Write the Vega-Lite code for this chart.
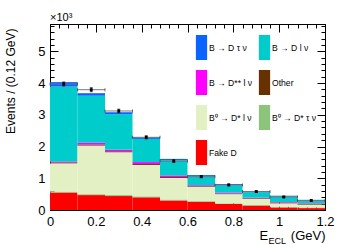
{
  "$schema": "https://vega.github.io/schema/vega-lite/v6.json",
  "width": 275,
  "height": 186,
  "autosize": "none",
  "padding": {"left": 50, "top": 24, "right": 36, "bottom": 35},
  "config": {
    "view": {"stroke": null},
    "font": "Liberation Sans",
    "axis": {"grid": false, "domainColor": "#000", "tickColor": "#000", "labelColor": "#000", "titleColor": "#000", "labelFont": "Liberation Sans", "titleFont": "Liberation Sans", "titleFontWeight": "normal", "zindex": 1}
  },
  "title": {"text": "×10³", "anchor": "start", "frame": "group", "fontSize": 11, "fontWeight": "normal", "font": "Liberation Sans", "color": "#000", "offset": 1},
  "datasets": {
    "hist": [
      {"x0":0,"x1":0.12,"c":"Fake D","o":1,"v":0.55},{"x0":0,"x1":0.12,"c":"B⁰ → D* τ ν","o":2,"v":0.03},{"x0":0,"x1":0.12,"c":"B⁰ → D* l ν","o":3,"v":0.89},{"x0":0,"x1":0.12,"c":"Other","o":4,"v":0.03},{"x0":0,"x1":0.12,"c":"B → D** l ν","o":5,"v":0.03},{"x0":0,"x1":0.12,"c":"B → D l ν","o":6,"v":2.36},{"x0":0,"x1":0.12,"c":"B → D τ ν","o":7,"v":0.14},
      {"x0":0.12,"x1":0.24,"c":"Fake D","o":1,"v":0.47},{"x0":0.12,"x1":0.24,"c":"B⁰ → D* τ ν","o":2,"v":0.03},{"x0":0.12,"x1":0.24,"c":"B⁰ → D* l ν","o":3,"v":1.53},{"x0":0.12,"x1":0.24,"c":"Other","o":4,"v":0.03},{"x0":0.12,"x1":0.24,"c":"B → D** l ν","o":5,"v":0.06},{"x0":0.12,"x1":0.24,"c":"B → D l ν","o":6,"v":1.48},{"x0":0.12,"x1":0.24,"c":"B → D τ ν","o":7,"v":0.08},
      {"x0":0.24,"x1":0.36,"c":"Fake D","o":1,"v":0.44},{"x0":0.24,"x1":0.36,"c":"B⁰ → D* τ ν","o":2,"v":0.03},{"x0":0.24,"x1":0.36,"c":"B⁰ → D* l ν","o":3,"v":1.35},{"x0":0.24,"x1":0.36,"c":"Other","o":4,"v":0.03},{"x0":0.24,"x1":0.36,"c":"B → D** l ν","o":5,"v":0.05},{"x0":0.24,"x1":0.36,"c":"B → D l ν","o":6,"v":1.12},{"x0":0.24,"x1":0.36,"c":"B → D τ ν","o":7,"v":0.06},
      {"x0":0.36,"x1":0.48,"c":"Fake D","o":1,"v":0.40},{"x0":0.36,"x1":0.48,"c":"B⁰ → D* τ ν","o":2,"v":0.03},{"x0":0.36,"x1":0.48,"c":"B⁰ → D* l ν","o":3,"v":0.99},{"x0":0.36,"x1":0.48,"c":"Other","o":4,"v":0.03},{"x0":0.36,"x1":0.48,"c":"B → D** l ν","o":5,"v":0.06},{"x0":0.36,"x1":0.48,"c":"B → D l ν","o":6,"v":0.73},{"x0":0.36,"x1":0.48,"c":"B → D τ ν","o":7,"v":0.05},
      {"x0":0.48,"x1":0.60,"c":"Fake D","o":1,"v":0.30},{"x0":0.48,"x1":0.60,"c":"B⁰ → D* τ ν","o":2,"v":0.03},{"x0":0.48,"x1":0.60,"c":"B⁰ → D* l ν","o":3,"v":0.68},{"x0":0.48,"x1":0.60,"c":"Other","o":4,"v":0.03},{"x0":0.48,"x1":0.60,"c":"B → D** l ν","o":5,"v":0.05},{"x0":0.48,"x1":0.60,"c":"B → D l ν","o":6,"v":0.48},{"x0":0.48,"x1":0.60,"c":"B → D τ ν","o":7,"v":0.04},
      {"x0":0.60,"x1":0.72,"c":"Fake D","o":1,"v":0.26},{"x0":0.60,"x1":0.72,"c":"B⁰ → D* τ ν","o":2,"v":0.02},{"x0":0.60,"x1":0.72,"c":"B⁰ → D* l ν","o":3,"v":0.45},{"x0":0.60,"x1":0.72,"c":"Other","o":4,"v":0.02},{"x0":0.60,"x1":0.72,"c":"B → D** l ν","o":5,"v":0.03},{"x0":0.60,"x1":0.72,"c":"B → D l ν","o":6,"v":0.27},{"x0":0.60,"x1":0.72,"c":"B → D τ ν","o":7,"v":0.05},
      {"x0":0.72,"x1":0.84,"c":"Fake D","o":1,"v":0.19},{"x0":0.72,"x1":0.84,"c":"B⁰ → D* τ ν","o":2,"v":0.02},{"x0":0.72,"x1":0.84,"c":"B⁰ → D* l ν","o":3,"v":0.29},{"x0":0.72,"x1":0.84,"c":"Other","o":4,"v":0.02},{"x0":0.72,"x1":0.84,"c":"B → D** l ν","o":5,"v":0.03},{"x0":0.72,"x1":0.84,"c":"B → D l ν","o":6,"v":0.23},{"x0":0.72,"x1":0.84,"c":"B → D τ ν","o":7,"v":0.04},
      {"x0":0.84,"x1":0.96,"c":"Fake D","o":1,"v":0.14},{"x0":0.84,"x1":0.96,"c":"B⁰ → D* τ ν","o":2,"v":0.02},{"x0":0.84,"x1":0.96,"c":"B⁰ → D* l ν","o":3,"v":0.19},{"x0":0.84,"x1":0.96,"c":"Other","o":4,"v":0.02},{"x0":0.84,"x1":0.96,"c":"B → D** l ν","o":5,"v":0.02},{"x0":0.84,"x1":0.96,"c":"B → D l ν","o":6,"v":0.17},{"x0":0.84,"x1":0.96,"c":"B → D τ ν","o":7,"v":0.04},
      {"x0":0.96,"x1":1.08,"c":"Fake D","o":1,"v":0.08},{"x0":0.96,"x1":1.08,"c":"B⁰ → D* τ ν","o":2,"v":0.02},{"x0":0.96,"x1":1.08,"c":"B⁰ → D* l ν","o":3,"v":0.11},{"x0":0.96,"x1":1.08,"c":"Other","o":4,"v":0.02},{"x0":0.96,"x1":1.08,"c":"B → D** l ν","o":5,"v":0.02},{"x0":0.96,"x1":1.08,"c":"B → D l ν","o":6,"v":0.17},{"x0":0.96,"x1":1.08,"c":"B → D τ ν","o":7,"v":0.03},
      {"x0":1.08,"x1":1.2,"c":"Fake D","o":1,"v":0.06},{"x0":1.08,"x1":1.2,"c":"B⁰ → D* τ ν","o":2,"v":0.02},{"x0":1.08,"x1":1.2,"c":"B⁰ → D* l ν","o":3,"v":0.09},{"x0":1.08,"x1":1.2,"c":"Other","o":4,"v":0.02},{"x0":1.08,"x1":1.2,"c":"B → D** l ν","o":5,"v":0.02},{"x0":1.08,"x1":1.2,"c":"B → D l ν","o":6,"v":0.08},{"x0":1.08,"x1":1.2,"c":"B → D τ ν","o":7,"v":0.03}
    ],
    "pts": [
      {"x0":0,"x1":0.12,"xc":0.06,"v":3.97,"lo":3.907,"hi":4.033},
      {"x0":0.12,"x1":0.24,"xc":0.18,"v":3.79,"lo":3.728,"hi":3.852},
      {"x0":0.24,"x1":0.36,"xc":0.30,"v":3.12,"lo":3.064,"hi":3.176},
      {"x0":0.36,"x1":0.48,"xc":0.42,"v":2.29,"lo":2.242,"hi":2.338},
      {"x0":0.48,"x1":0.60,"xc":0.54,"v":1.54,"lo":1.501,"hi":1.579},
      {"x0":0.60,"x1":0.72,"xc":0.66,"v":1.05,"lo":1.018,"hi":1.082},
      {"x0":0.72,"x1":0.84,"xc":0.78,"v":0.79,"lo":0.762,"hi":0.818},
      {"x0":0.84,"x1":0.96,"xc":0.90,"v":0.58,"lo":0.556,"hi":0.604},
      {"x0":0.96,"x1":1.08,"xc":1.02,"v":0.41,"lo":0.39,"hi":0.43},
      {"x0":1.08,"x1":1.2,"xc":1.14,"v":0.30,"lo":0.283,"hi":0.317}
    ]
  },
  "resolve": {"axis": {"x": "independent", "y": "independent"}},
  "layer": [
    {
      "data": {"name": "hist"},
      "transform": [{"stack": "v", "groupby": ["x0"], "sort": [{"field": "o", "order": "ascending"}], "as": ["y0", "y1"]}],
      "mark": {"type": "bar", "strokeWidth": 0},
      "encoding": {
        "x": {"field": "x0", "type": "quantitative", "scale": {"domain": [0, 1.2], "nice": false, "zero": false},
              "axis": {"orient": "bottom", "values": [0, 0.2, 0.4, 0.6, 0.8, 1, 1.2], "format": "~g", "tickSize": -8, "labelPadding": 13, "labelFlush": false, "labelFontSize": 13, "domainWidth": 1,
                       "title": "E", "titleFontSize": 13, "titleX": 209, "titleY": 29.5, "titleAlign": "left", "titleBaseline": "alphabetic"}},
        "x2": {"field": "x1"},
        "y": {"field": "y0", "type": "quantitative", "scale": {"domain": [0, 5.86], "nice": false, "zero": false},
              "axis": {"orient": "left", "values": [0, 1, 2, 3, 4, 5], "tickSize": -8, "labelPadding": 13, "labelFontSize": 13, "labelFlush": false,
                       "title": "Events / (0.12 GeV)", "titleFontSize": 12, "titleAngle": -90, "titleX": -39.5, "titleY": 4, "titleAlign": "right", "titleBaseline": "middle"}},
        "y2": {"field": "y1"},
        "color": {"field": "c", "type": "nominal",
                  "scale": {"domain": ["B → D τ ν", "B → D** l ν", "B⁰ → D* l ν", "Fake D", "B → D l ν", "Other", "B⁰ → D* τ ν"],
                            "range": ["#0a64ff", "#ff00ff", "#e2f0c4", "#ff0000", "#00cccc", "#663300", "#8cc47c"]},
                  "legend": {"orient": "none", "legendX": 139, "legendY": 11, "columns": 2, "title": null, "padding": 0,
                             "symbolType": "M-0.45,-1H0.45V1H-0.45Z", "symbolSize": 625, "symbolStrokeWidth": 0, "symbolOpacity": 1,
                             "labelFont": "Liberation Sans", "labelFontSize": 8.6, "labelColor": "#000", "labelOffset": -5,
                             "rowPadding": 10, "columnPadding": -6, "labelLimit": 200}}
      }
    },
    {
      "data": {"name": "pts"},
      "mark": {"type": "rule", "color": "#777", "strokeWidth": 1},
      "encoding": {
        "x": {"field": "x0", "type": "quantitative",
              "axis": {"orient": "bottom", "values": [0,0.04,0.08,0.12,0.16,0.2,0.24,0.28,0.32,0.36,0.4,0.44,0.48,0.52,0.56,0.6,0.64,0.68,0.72,0.76,0.8,0.84,0.88,0.92,0.96,1,1.04,1.08,1.12,1.16,1.2], "tickSize": -4, "labels": false, "domain": false,
                       "title": "ECL", "titleFontSize": 9, "titleX": 218, "titleY": 33, "titleAlign": "left", "titleBaseline": "alphabetic"}},
        "x2": {"field": "x1"},
        "y": {"field": "v", "type": "quantitative",
              "axis": {"orient": "left", "values": [0,0.2,0.4,0.6,0.8,1,1.2,1.4,1.6,1.8,2,2.2,2.4,2.6,2.8,3,3.2,3.4,3.6,3.8,4,4.2,4.4,4.6,4.8,5,5.2,5.4,5.6,5.8], "tickSize": -4, "labels": false, "domain": false, "title": null}}
      }
    },
    {
      "data": {"name": "pts"},
      "mark": {"type": "rule", "color": "#000", "strokeWidth": 1},
      "encoding": {
        "x": {"field": "xc", "type": "quantitative",
              "axis": {"orient": "top", "values": [0, 0.2, 0.4, 0.6, 0.8, 1, 1.2], "tickSize": -8, "labels": false, "domainWidth": 1, "title": null}},
        "y": {"field": "lo", "type": "quantitative",
              "axis": {"orient": "right", "values": [0, 1, 2, 3, 4, 5], "tickSize": -8, "labels": false, "domainWidth": 1, "title": null}},
        "y2": {"field": "hi"}
      }
    },
    {
      "data": {"name": "pts"},
      "mark": {"type": "tick", "orient": "horizontal", "color": "#000", "size": 3, "thickness": 1},
      "encoding": {
        "x": {"field": "xc", "type": "quantitative",
              "axis": {"orient": "top", "values": [0,0.04,0.08,0.12,0.16,0.2,0.24,0.28,0.32,0.36,0.4,0.44,0.48,0.52,0.56,0.6,0.64,0.68,0.72,0.76,0.8,0.84,0.88,0.92,0.96,1,1.04,1.08,1.12,1.16,1.2], "tickSize": -4, "labels": false, "domain": false, "title": null}},
        "y": {"field": "lo", "type": "quantitative",
              "axis": {"orient": "right", "values": [0,0.2,0.4,0.6,0.8,1,1.2,1.4,1.6,1.8,2,2.2,2.4,2.6,2.8,3,3.2,3.4,3.6,3.8,4,4.2,4.4,4.6,4.8,5,5.2,5.4,5.6,5.8], "tickSize": -4, "labels": false, "domain": false, "title": null}}
      }
    },
    {
      "data": {"name": "pts"},
      "mark": {"type": "tick", "orient": "horizontal", "color": "#000", "size": 3, "thickness": 1},
      "encoding": {
        "x": {"field": "xc", "type": "quantitative",
              "axis": {"orient": "bottom", "ticks": false, "labels": false, "domain": false,
                       "title": "(GeV)", "titleFontSize": 13, "titleX": 275, "titleY": 29.5, "titleAlign": "right", "titleBaseline": "alphabetic"}},
        "y": {"field": "hi", "type": "quantitative", "axis": null}
      }
    },
    {
      "data": {"name": "pts"},
      "mark": {"type": "tick", "orient": "vertical", "color": "#333", "size": 3, "thickness": 1},
      "encoding": {
        "x": {"field": "x0", "type": "quantitative", "axis": null},
        "y": {"field": "v", "type": "quantitative", "axis": null}
      }
    },
    {
      "data": {"name": "pts"},
      "mark": {"type": "tick", "orient": "vertical", "color": "#333", "size": 3, "thickness": 1},
      "encoding": {
        "x": {"field": "x1", "type": "quantitative", "axis": null},
        "y": {"field": "v", "type": "quantitative", "axis": null}
      }
    },
    {
      "data": {"name": "pts"},
      "mark": {"type": "square", "color": "#000", "size": 8, "opacity": 1},
      "encoding": {
        "x": {"field": "xc", "type": "quantitative", "axis": null},
        "y": {"field": "v", "type": "quantitative", "axis": null}
      }
    }
  ]
}
